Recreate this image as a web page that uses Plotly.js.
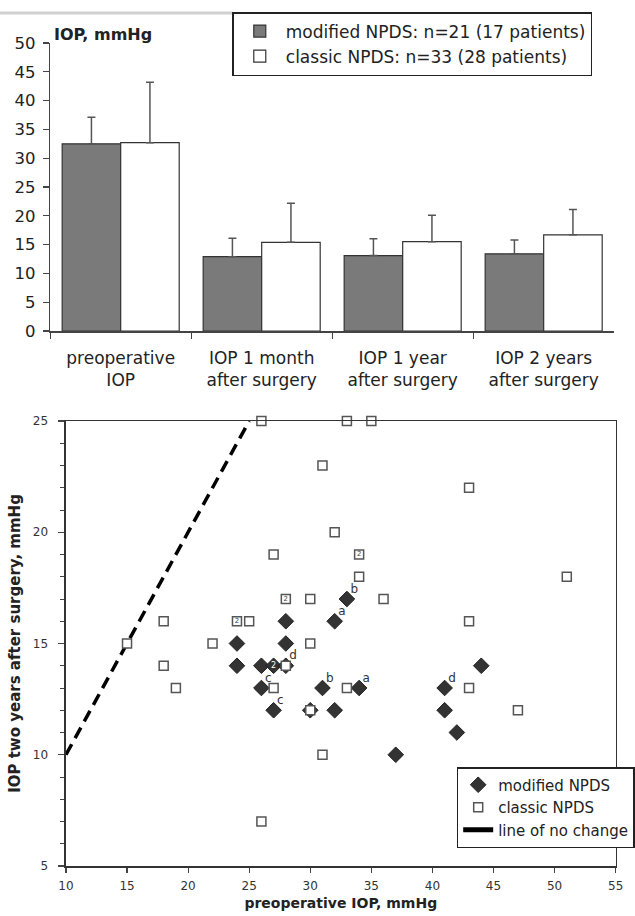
<!DOCTYPE html>
<html>
<head>
<meta charset="utf-8">
<script src="https://cdn.plot.ly/plotly-3.0.1.min.js"></script>
<style>html,body{margin:0;padding:0;background:#fff;}#chart{width:635px;height:916px;}</style>
</head>
<body>
<div id="chart"></div>
<script>
// ---- Top chart: mean IOP (+SD) ----
const categories = ['preoperative<br>IOP', 'IOP 1 month<br>after surgery', 'IOP 1 year<br>after surgery', 'IOP 2 years<br>after surgery'];
const modifiedMean = [32.5, 12.9, 13.1, 13.4];
const modifiedSD   = [4.6, 3.2, 2.9, 2.4];
const classicMean  = [32.7, 15.4, 15.5, 16.7];
const classicSD    = [10.5, 6.8, 4.6, 4.4];
const barNames = ['modified NPDS: n=21 (17 patients)', 'classic NPDS: n=33 (28 patients)'];

// ---- Bottom chart: preoperative vs 2-year IOP ----
const modX     = [24, 24, 26, 27, 28, 28, 28, 26, 27, 31, 32, 33, 34, 32, 30, 37, 41, 41, 42, 44];
const modY     = [15, 14, 14, 14, 16, 15, 14, 13, 12, 13, 16, 17, 13, 12, 12, 10, 13, 12, 11, 14];
const modN     = [1,  1,  1,  2,  1,  1,  1,  1,  1,  1,  1,  1,  1,  1,  1,  1,  1,  1,  1,  1];
const modLabel = ['', '', '', '', '', '', 'd', 'c', 'c', 'b', 'a', 'b', 'a', '', '', '', 'd', '', '', ''];

const classicX = [26, 33, 35, 31, 43, 32, 27, 34, 34, 51, 28, 30, 36, 18, 24, 25, 43, 15, 22, 30, 18, 28, 19, 27, 33, 43, 30, 47, 31, 26];
const classicY = [25, 25, 25, 23, 22, 20, 19, 19, 18, 18, 17, 17, 17, 16, 16, 16, 16, 15, 15, 15, 14, 14, 13, 13, 13, 13, 12, 12, 10, 7];
const classicN = [1,  1,  1,  1,  1,  1,  1,  2,  1,  1,  2,  1,  1,  1,  2,  1,  1,  1,  1,  1,  1,  1,  1,  1,  1,  1,  1,  1,  1,  1];

const noChange = [10, 25];

const countText = arr => arr.map(n => n > 1 ? String(n) : '');

const traces = [
  {
    type: 'bar', x: categories, y: modifiedMean, name: barNames[0],
    xaxis: 'x', yaxis: 'y', legend: 'legend',
    marker: {color: '#7a7a7a', line: {color: '#333', width: 1.2}},
    error_y: {type: 'data', symmetric: false, array: modifiedSD, arrayminus: modifiedSD.map(() => 0),
              color: '#555', thickness: 1.5, width: 4}
  },
  {
    type: 'bar', x: categories, y: classicMean, name: barNames[1],
    xaxis: 'x', yaxis: 'y', legend: 'legend',
    marker: {color: '#ffffff', line: {color: '#333', width: 1.2}},
    error_y: {type: 'data', symmetric: false, array: classicSD, arrayminus: classicSD.map(() => 0),
              color: '#555', thickness: 1.5, width: 4}
  },
  {
    type: 'scatter', mode: 'lines', x: noChange, y: noChange, xaxis: 'x2', yaxis: 'y2',
    showlegend: false, hoverinfo: 'skip', cliponaxis: false,
    line: {color: '#000', width: 3.5, dash: '12px,7px'}
  },
  {
    type: 'scatter', mode: 'markers+text', x: modX, y: modY, name: 'modified NPDS',
    xaxis: 'x2', yaxis: 'y2', legend: 'legend2', cliponaxis: false,
    text: countText(modN), textposition: 'middle center',
    textfont: {size: 8, color: '#fff', family: 'DejaVu Sans'},
    marker: {symbol: 'diamond', size: 12, color: '#333', line: {color: '#222', width: 1}}
  },
  {
    type: 'scatter', mode: 'markers+text', x: classicX, y: classicY, name: 'classic NPDS',
    xaxis: 'x2', yaxis: 'y2', legend: 'legend2', cliponaxis: false,
    text: countText(classicN), textposition: 'middle center',
    textfont: {size: 7, color: '#444', family: 'DejaVu Sans'},
    marker: {symbol: 'square', size: 9, color: '#fff', line: {color: '#555', width: 1.5}}
  },
  {
    type: 'scatter', mode: 'markers+text', x: modX, y: modY, text: modLabel,
    xaxis: 'x2', yaxis: 'y2', showlegend: false, hoverinfo: 'skip', cliponaxis: false,
    textposition: 'top right', textfont: {size: 12, color: '#333', family: 'DejaVu Sans'},
    marker: {size: 4, opacity: 0}
  },
  {
    type: 'scatter', mode: 'lines', x: [null], y: [null], name: 'line of no change',
    xaxis: 'x2', yaxis: 'y2', legend: 'legend2',
    line: {color: '#000', width: 5}
  }
];

const axisCol = '#444';
const layout = {
  width: 635, height: 916,
  margin: {l: 0, r: 0, t: 0, b: 0},
  paper_bgcolor: '#fff', plot_bgcolor: 'rgba(0,0,0,0)',
  font: {family: 'DejaVu Sans', color: '#222'},
  showlegend: true,
  barmode: 'group', bargap: 0.17, bargroupgap: 0,
  xaxis: {
    domain: [51/635, 624/635], anchor: 'y', type: 'category',
    tickson: 'boundaries', ticks: 'outside', ticklen: 6, tickcolor: axisCol, tickwidth: 1.2,
    showline: true, linecolor: axisCol, linewidth: 1.5, showgrid: false, zeroline: false,
    tickfont: {size: 17, color: '#222'}, ticklabelstandoff: 11, fixedrange: true
  },
  yaxis: {
    domain: [1 - 331/916, 1 - 43/916], anchor: 'x', range: [0, 50], dtick: 5,
    ticks: 'outside', ticklen: 6, tickcolor: axisCol, tickwidth: 1.2,
    showline: true, linecolor: axisCol, linewidth: 1.5, showgrid: false, zeroline: false,
    tickfont: {size: 16.5, color: '#222'}, ticklabelstandoff: 4
  },
  xaxis2: {
    domain: [67/635, 625.5/635], anchor: 'y2', range: [10, 55], dtick: 5,
    ticks: 'outside', ticklen: 5, tickcolor: axisCol, tickwidth: 1.2,
    showline: true, mirror: true, linecolor: '#333', linewidth: 1.5, showgrid: false, zeroline: false,
    tickfont: {size: 12, color: '#333'}, ticklabelstandoff: 3,
    title: {text: 'preoperative IOP, mmHg', font: {size: 14, weight: 'bold', color: '#222'}, standoff: 6}
  },
  yaxis2: {
    domain: [1 - 866/916, 1 - 421/916], anchor: 'x2', range: [5, 25], dtick: 5,
    ticks: 'outside', ticklen: 6, tickcolor: axisCol, tickwidth: 1.2,
    minor: {dtick: 1, ticks: 'outside', ticklen: 4, tickcolor: axisCol, tickwidth: 1},
    showline: true, mirror: true, linecolor: '#333', linewidth: 1.5, showgrid: false, zeroline: false,
    tickfont: {size: 12, color: '#333'}, ticklabelstandoff: 8,
    title: {text: 'IOP two years after surgery, mmHg', font: {size: 15, weight: 'bold', color: '#222'}, standoff: 8}
  },
  legend: {
    x: 236/635, y: 1 - 12/916, xanchor: 'left', yanchor: 'top',
    bgcolor: '#fff', bordercolor: '#222', borderwidth: 1.5, itemwidth: 42,
    entrywidth: 340, entrywidthmode: 'pixels',
    font: {size: 17, color: '#222'}, traceorder: 'normal'
  },
  legend2: {
    x: 464/635, y: 1 - 767/916, xanchor: 'left', yanchor: 'top',
    bgcolor: '#fff', bordercolor: '#222', borderwidth: 1.5,
    font: {size: 15, color: '#222'}, traceorder: 'normal'
  },
  annotations: [
    {text: '<b>IOP, mmHg</b>', xref: 'paper', yref: 'paper', x: 53/635, y: 1 - 34/916,
     xanchor: 'left', yanchor: 'middle', showarrow: false, font: {size: 16, color: '#222'}}
  ],
  shapes: [
    {type: 'line', xref: 'paper', yref: 'paper', x0: 0, x1: 236/635, y0: 1 - 13/916, y1: 1 - 13/916,
     line: {color: '#d0d0d0', width: 3}}
  ]
};

Plotly.newPlot('chart', traces, layout, {displayModeBar: false, staticPlot: true});
</script>
</body>
</html>
